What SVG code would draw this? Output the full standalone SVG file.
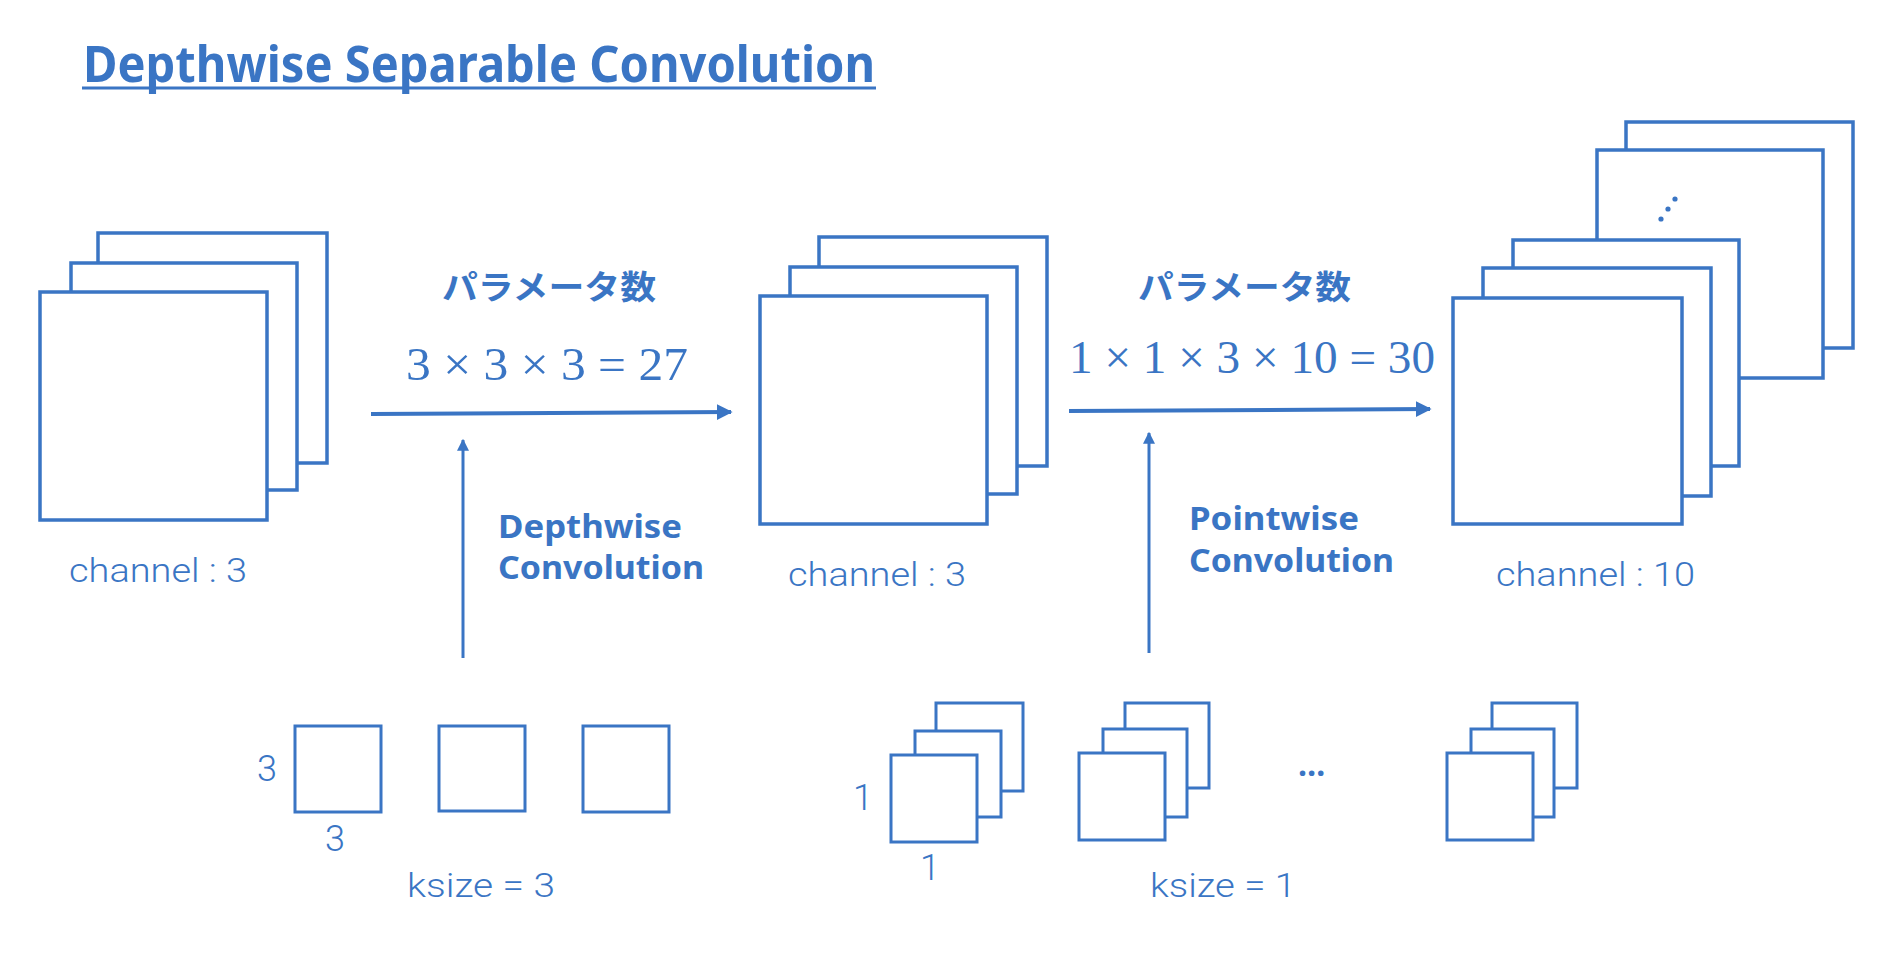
<svg xmlns="http://www.w3.org/2000/svg" width="1880" height="958" viewBox="0 0 1880 958">
<defs>
<marker id="ah" viewBox="0 0 10 10" refX="9" refY="5" markerWidth="4" markerHeight="4" markerUnits="strokeWidth" orient="auto">
<path d="M0,0 L10,5 L0,10 z" fill="#3A75C4"/>
</marker>
<style>
.sh{fill:#fff;stroke:#3A75C4;stroke-width:3.5}
.k{fill:#fff;stroke:#3A75C4;stroke-width:3}
.t{fill:#3A75C4;font-family:"Noto Sans","Liberation Sans",sans-serif}
.lt{font-weight:300;font-family:Roboto,"Noto Sans","Liberation Sans",sans-serif}
.b{font-weight:bold}
.jp{fill:#3A75C4;font-family:"Noto Sans CJK JP",sans-serif;font-weight:bold}
.m{fill:#3A75C4;font-family:"Liberation Serif","DejaVu Serif",serif}
.c{stroke:#3A75C4;fill:none}
</style>
</defs>
<rect width="1880" height="958" fill="#fff"/>
<g id="title">
<text class="t b" x="83" y="82" font-size="50" textLength="792" lengthAdjust="spacingAndGlyphs">Depthwise Separable Convolution</text>
<line x1="82" y1="88" x2="876" y2="88" stroke="#3A75C4" stroke-width="3"/>
</g>
<g id="input">
<rect class="sh" x="98" y="233" width="229" height="230"/>
<rect class="sh" x="71" y="263" width="226" height="227"/>
<rect class="sh" x="40" y="292" width="227" height="228"/>
<text class="t lt" x="69" y="582" font-size="34" textLength="178" lengthAdjust="spacingAndGlyphs">channel : 3</text>
</g>
<g id="middle">
<rect class="sh" x="819" y="237" width="228" height="229"/>
<rect class="sh" x="790" y="267" width="227" height="227"/>
<rect class="sh" x="760" y="296" width="227" height="228"/>
<text class="t lt" x="788" y="586" font-size="34" textLength="178" lengthAdjust="spacingAndGlyphs">channel : 3</text>
</g>
<g id="output">
<rect class="sh" x="1626" y="122" width="227" height="226"/>
<rect class="sh" x="1597" y="150" width="226" height="228"/>
<rect class="sh" x="1513" y="240" width="226" height="226"/>
<rect class="sh" x="1483" y="268" width="228" height="228"/>
<rect class="sh" x="1453" y="298" width="229" height="226"/>
<circle cx="1675" cy="199" r="2.6" fill="#3A75C4"/>
<circle cx="1668" cy="209" r="2.6" fill="#3A75C4"/>
<circle cx="1661" cy="219" r="2.6" fill="#3A75C4"/>
<text class="t lt" x="1496" y="586" font-size="34" textLength="199" lengthAdjust="spacingAndGlyphs">channel : 10</text>
</g>
<g id="connectors">
<line class="c" x1="371" y1="414" x2="731" y2="412" stroke-width="4" marker-end="url(#ah)"/>
<line class="c" x1="463" y1="658" x2="463" y2="440" stroke-width="3" marker-end="url(#ah)"/>
<line class="c" x1="1069" y1="411" x2="1430" y2="409" stroke-width="4" marker-end="url(#ah)"/>
<line class="c" x1="1149" y1="653" x2="1149" y2="433" stroke-width="3" marker-end="url(#ah)"/>
</g>
<g id="label-depthwise">
<text class="jp" x="442" y="299" font-size="33" textLength="214" lengthAdjust="spacingAndGlyphs">パラメータ数</text>
<text class="m" x="406" y="380" font-size="47" textLength="282" lengthAdjust="spacingAndGlyphs">3 × 3 × 3 = 27</text>
<text class="t b" x="498" y="538" font-size="32" textLength="184" lengthAdjust="spacingAndGlyphs">Depthwise</text>
<text class="t b" x="498" y="579" font-size="32" textLength="206" lengthAdjust="spacingAndGlyphs">Convolution</text>
</g>
<g id="label-pointwise">
<text class="jp" x="1138" y="299" font-size="33" textLength="213" lengthAdjust="spacingAndGlyphs">パラメータ数</text>
<text class="m" x="1069" y="373" font-size="47" textLength="366" lengthAdjust="spacingAndGlyphs">1 × 1 × 3 × 10 = 30</text>
<text class="t b" x="1189" y="530" font-size="32" textLength="170" lengthAdjust="spacingAndGlyphs">Pointwise</text>
<text class="t b" x="1189" y="572" font-size="32" textLength="205" lengthAdjust="spacingAndGlyphs">Convolution</text>
</g>
<g id="kernels-depthwise">
<rect class="k" x="295" y="726" width="86" height="86"/>
<rect class="k" x="439" y="726" width="86" height="85"/>
<rect class="k" x="583" y="726" width="86" height="86"/>
<text class="t lt" x="257" y="781" font-size="36">3</text>
<text class="t lt" x="325" y="851" font-size="36">3</text>
<text class="t lt" x="407" y="897" font-size="34" textLength="148" lengthAdjust="spacingAndGlyphs">ksize = 3</text>
</g>
<g id="kernels-pointwise">
<rect class="k" x="936" y="703" width="87" height="88"/>
<rect class="k" x="915" y="731" width="86" height="86"/>
<rect class="k" x="891" y="755" width="86" height="87"/>
<rect class="k" x="1125" y="703" width="84" height="85"/>
<rect class="k" x="1103" y="729" width="84" height="88"/>
<rect class="k" x="1079" y="753" width="86" height="87"/>
<rect class="k" x="1492" y="703" width="85" height="85"/>
<rect class="k" x="1471" y="729" width="83" height="88"/>
<rect class="k" x="1447" y="753" width="86" height="87"/>
<text class="t lt" x="853" y="810" font-size="36">1</text>
<text class="t lt" x="920" y="880" font-size="36">1</text>
<text class="t b" x="1298" y="776" font-size="32">…</text>
<text class="t lt" x="1150" y="897" font-size="34" textLength="146" lengthAdjust="spacingAndGlyphs">ksize = 1</text>
</g>
</svg>
